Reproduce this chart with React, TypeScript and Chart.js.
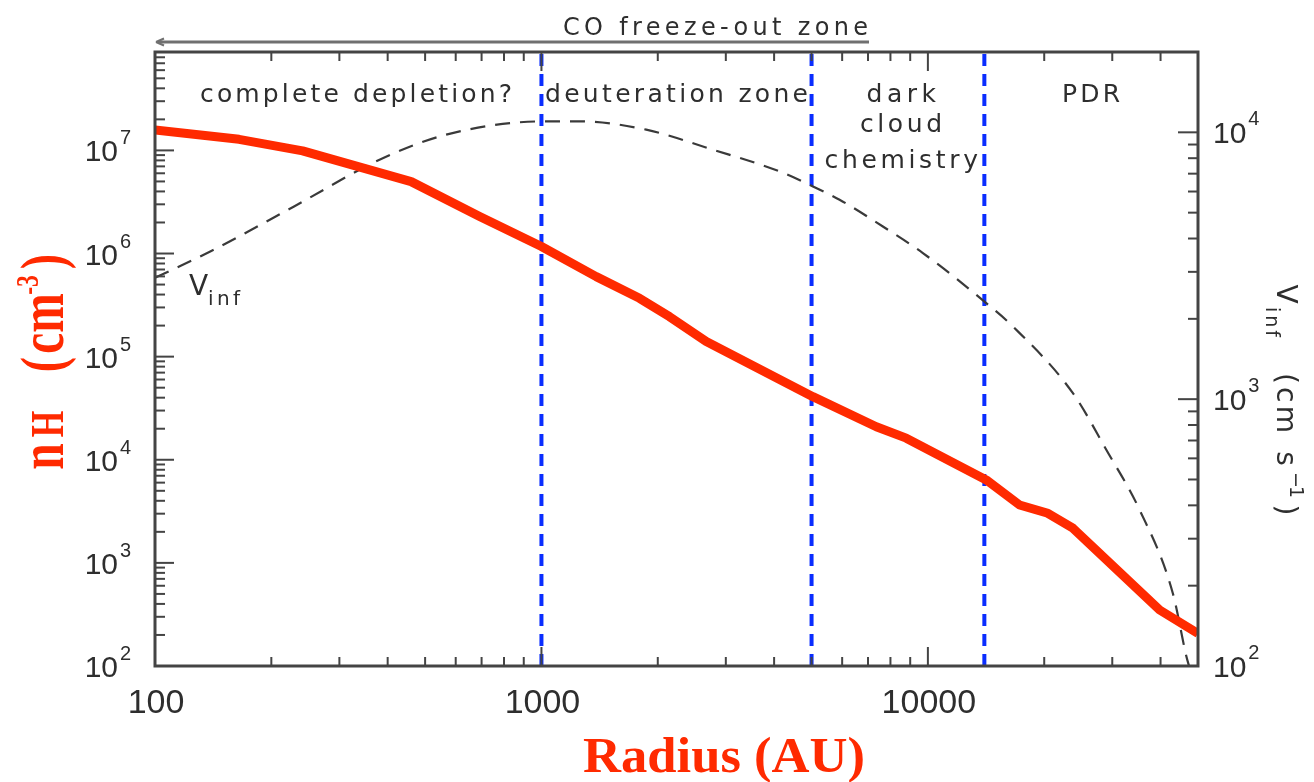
import React, { useEffect, useRef } from 'react';
import { Chart, registerables } from 'chart.js';

Chart.register(...registerables);

// ---- data ----
const radiusDensity = [100, 165, 241, 460, 692, 1000, 1386, 1794, 2145, 2670, 5040, 7354, 8790, 14160, 17270, 20440, 23730, 39790, 50000];
const density = [1.58e7, 1.28e7, 9.9e6, 4.98e6, 2.28e6, 1.17e6, 5.97e5, 3.68e5, 2.44e5, 1.4e5, 4.09e4, 2.09e4, 1.62e4, 6370, 3640, 3027, 2170, 349, 207];

const radiusVinf = [100, 139, 229, 381, 567, 1000, 1255, 1867, 2777, 4133, 5040, 5908, 7647, 9707, 14160, 16600, 23730, 28950, 35300, 43050, 46700, 47400];
const vinf = [2850, 3575, 5275, 7890, 9800, 10990, 11000, 10230, 8610, 7135, 6270, 5590, 4436, 3528, 2290, 1872, 1053, 646, 385, 187, 108, 100];

const zoneBoundaries = [1000, 5000, 14000];

const radiusRange = [100, 50000];
const densityRange = [100, 9e7];
const vinfRange = [100, 2e4];

const xTickValues = [100, 1000, 10000];
const xTickLabels = ['100', '1000', '10000'];
const densityExponents = [2, 3, 4, 5, 6, 7];
const vinfExponents = [2, 3, 4];

const zoneLabels = ['complete depletion?', 'deuteration zone', 'dark', 'cloud', 'chemistry', 'PDR'];
const freezeOutLabel = 'CO freeze-out zone';
const xTitle = 'Radius (AU)';

const SANS = "'Liberation Sans', Arial, sans-serif";
const LABEL = "'DejaVu Sans', 'Liberation Sans', sans-serif";
const SERIF = "'Liberation Serif', 'Times New Roman', serif";
const TEXT = '#2e2e2e';
const AXIS = '#444444';
const RED = '#ff2a00';

function spacedText(ctx: CanvasRenderingContext2D, text: string, font: string, x: number, y: number, width: number) {
  ctx.font = font;
  const w = ctx.measureText(text).width;
  const sp = text.length > 1 ? (width - w) / (text.length - 1) : 0;
  (ctx as any).letterSpacing = `${sp}px`;
  ctx.textAlign = 'left';
  ctx.fillText(text, text.length > 1 ? x : x + (width - w) / 2, y);
  (ctx as any).letterSpacing = '0px';
}

function scaledText(ctx: CanvasRenderingContext2D, text: string, font: string, cx: number, y: number, sx: number) {
  ctx.font = font;
  const w = ctx.measureText(text).width * sx;
  ctx.save();
  ctx.translate(cx - w / 2, y);
  ctx.scale(sx, 1);
  ctx.textAlign = 'left';
  ctx.fillText(text, 0, 0);
  ctx.restore();
}

const overlayPlugin = {
  id: 'overlay',
  afterDraw(chart: any) {
    const { ctx, chartArea: a, scales } = chart;
    const xs = scales.x;
    const ys = scales.y;
    const y2s = scales.y2;
    ctx.save();
    ctx.textBaseline = 'alphabetic';

    // frame
    ctx.strokeStyle = AXIS;
    ctx.lineWidth = 3;
    ctx.strokeRect(a.left, a.top, a.right - a.left, a.bottom - a.top);

    const seg = (x1: number, y1: number, x2: number, y2: number) => {
      ctx.beginPath();
      ctx.moveTo(x1, y1);
      ctx.lineTo(x2, y2);
      ctx.stroke();
    };
    ctx.lineWidth = 2;

    // x ticks (bottom + top)
    for (let e = 2; e <= 4; e++) {
      for (let m = 1; m <= 9; m++) {
        const v = m * Math.pow(10, e);
        if (v < radiusRange[0] || v > radiusRange[1]) continue;
        const px = xs.getPixelForValue(v);
        const len = m === 1 ? 19 : 9;
        seg(px, a.bottom, px, a.bottom - len);
        seg(px, a.top, px, a.top + len);
      }
    }
    // left ticks
    for (let e = 2; e <= 7; e++) {
      for (let m = 1; m <= 9; m++) {
        const v = m * Math.pow(10, e);
        if (v > densityRange[1]) continue;
        const py = ys.getPixelForValue(v);
        const len = m === 1 ? 19 : 10;
        seg(a.left, py, a.left + len, py);
      }
    }
    // right ticks
    for (let e = 2; e <= 4; e++) {
      for (let m = 1; m <= 9; m++) {
        const v = m * Math.pow(10, e);
        if (v > vinfRange[1]) continue;
        const py = y2s.getPixelForValue(v);
        const len = m === 1 ? 20 : 10;
        seg(a.right, py, a.right - len, py);
      }
    }

    ctx.fillStyle = TEXT;
    // x tick labels
    ctx.font = `34px ${SANS}`;
    ctx.textAlign = 'center';
    xTickValues.forEach((v, i) => {
      ctx.fillText(xTickLabels[i], xs.getPixelForValue(v) + 1, a.bottom + 47);
    });

    // left tick labels
    densityExponents.forEach((e) => {
      const py = ys.getPixelForValue(Math.pow(10, e));
      ctx.font = `30px ${SANS}`;
      ctx.textAlign = 'right';
      ctx.fillText('10', a.left - 37, py + 11);
      ctx.font = `20px ${SANS}`;
      ctx.textAlign = 'left';
      ctx.fillText(String(e), a.left - 35, py - 6);
    });

    // right tick labels
    vinfExponents.forEach((e) => {
      const py = y2s.getPixelForValue(Math.pow(10, e));
      ctx.font = `30px ${SANS}`;
      ctx.textAlign = 'left';
      ctx.fillText('10', a.right + 15, py + 11);
      const w = ctx.measureText('10').width;
      ctx.font = `20px ${SANS}`;
      ctx.fillText(String(e), a.right + 17 + w, py - 7);
    });

    // zone labels
    const zf = `25px ${LABEL}`;
    spacedText(ctx, zoneLabels[0], zf, 200, 101.7, 312);
    spacedText(ctx, zoneLabels[1], zf, 545, 101.7, 263);
    spacedText(ctx, zoneLabels[2], zf, 866.5, 101.7, 69.5);
    spacedText(ctx, zoneLabels[3], zf, 860, 131.7, 82);
    spacedText(ctx, zoneLabels[4], zf, 824.5, 168, 153.5);
    spacedText(ctx, zoneLabels[5], zf, 1062, 101.7, 58);

    // CO freeze-out arrow and label
    spacedText(ctx, freezeOutLabel, `24px ${LABEL}`, 563, 35, 305);
    ctx.strokeStyle = '#707070';
    ctx.lineWidth = 3;
    seg(158, 42, 869, 42);
    ctx.lineWidth = 2;
    seg(156, 42, 164, 38.5);
    seg(156, 42, 164, 45.5);

    // V_inf label inside plot
    ctx.fillStyle = TEXT;
    spacedText(ctx, 'V', `28px ${LABEL}`, 189, 295, 19);
    spacedText(ctx, 'inf', `20px ${LABEL}`, 208, 305, 32);

    // right axis title (rotated clockwise)
    ctx.save();
    ctx.translate(1277, 283);
    ctx.rotate(Math.PI / 2);
    ctx.fillStyle = TEXT;
    spacedText(ctx, 'V', `28px ${LABEL}`, 0, 0, 22);
    spacedText(ctx, 'inf', `19px ${LABEL}`, 24, 11, 30);
    spacedText(ctx, '(', `28px ${LABEL}`, 89, 0, 13);
    spacedText(ctx, 'cm', `28px ${LABEL}`, 104, 0, 46);
    spacedText(ctx, 's', `28px ${LABEL}`, 167, 0, 17);
    spacedText(ctx, '\u22121', `19px ${LABEL}`, 189, -13, 26);
    spacedText(ctx, ')', `28px ${LABEL}`, 220, 0, 14);
    ctx.restore();

    // left axis title (rotated counter-clockwise), red bold serif
    ctx.save();
    ctx.translate(63, 470);
    ctx.rotate(-Math.PI / 2);
    ctx.fillStyle = RED;
    const sx = 0.74;
    scaledText(ctx, 'n', `bold 64px ${SERIF}`, 13.5, 0, sx);
    scaledText(ctx, 'H', `bold 46px ${SERIF}`, 46, 0, sx);
    scaledText(ctx, '(', `bold 62px ${SERIF}`, 105.5, 0, sx);
    scaledText(ctx, 'cm', `bold 64px ${SERIF}`, 146.5, 0, sx);
    scaledText(ctx, '-3', `bold 32px ${SERIF}`, 185, -25, sx);
    scaledText(ctx, ')', `bold 62px ${SERIF}`, 208.5, 0, sx);
    ctx.restore();

    // x axis title
    ctx.fillStyle = RED;
    ctx.font = `bold 51px ${SERIF}`;
    const tw = ctx.measureText(xTitle).width;
    scaledText(ctx, xTitle, `bold 51px ${SERIF}`, 724, 771.7, 282 / tw);

    ctx.restore();
  },
};

export default function App() {
  const canvasRef = useRef<HTMLCanvasElement | null>(null);

  useEffect(() => {
    if (!canvasRef.current) return;
    const densityData = radiusDensity.map((r, i) => ({ x: r, y: density[i] }));
    const vinfData = radiusVinf.map((r, i) => ({ x: r, y: vinf[i] }));
    const boundaryDatasets = zoneBoundaries.map((b) => ({
      label: `boundary ${b}`,
      data: [
        { x: b, y: densityRange[0] },
        { x: b, y: densityRange[1] },
      ],
      yAxisID: 'y',
      borderColor: '#0a2dff',
      borderWidth: 4,
      borderDash: [12, 8],
      pointRadius: 0,
      order: 2,
      clip: 0,
    }));

    const chart = new Chart(canvasRef.current, {
      type: 'line',
      data: {
        datasets: [
          {
            label: 'nH',
            data: densityData,
            yAxisID: 'y',
            borderColor: RED,
            borderWidth: 9,
            pointRadius: 0,
            borderJoinStyle: 'round',
            tension: 0,
            order: 0,
            clip: 0,
          },
          {
            label: 'Vinf',
            data: vinfData,
            yAxisID: 'y2',
            borderColor: '#3a3a3a',
            borderWidth: 2.2,
            borderDash: [15, 10],
            pointRadius: 0,
            cubicInterpolationMode: 'monotone',
            order: 1,
            clip: 0,
          },
          ...boundaryDatasets,
        ] as any,
      },
      options: {
        responsive: false,
        animation: false,
        devicePixelRatio: 1,
        layout: { padding: { left: 155, right: 116, top: 52, bottom: 116 } },
        plugins: { legend: { display: false }, tooltip: { enabled: false } },
        scales: {
          x: { type: 'logarithmic', min: radiusRange[0], max: radiusRange[1], display: false },
          y: { type: 'logarithmic', min: densityRange[0], max: densityRange[1], display: false },
          y2: { type: 'logarithmic', position: 'right', min: vinfRange[0], max: vinfRange[1], display: false },
        },
      } as any,
      plugins: [overlayPlugin],
    });
    return () => chart.destroy();
  }, []);

  return (
    <div style={{ position: 'absolute', left: 0, top: 0, width: 1314, height: 782, background: '#ffffff' }}>
      <canvas ref={canvasRef} width={1314} height={782} style={{ display: 'block' }} />
    </div>
  );
}
